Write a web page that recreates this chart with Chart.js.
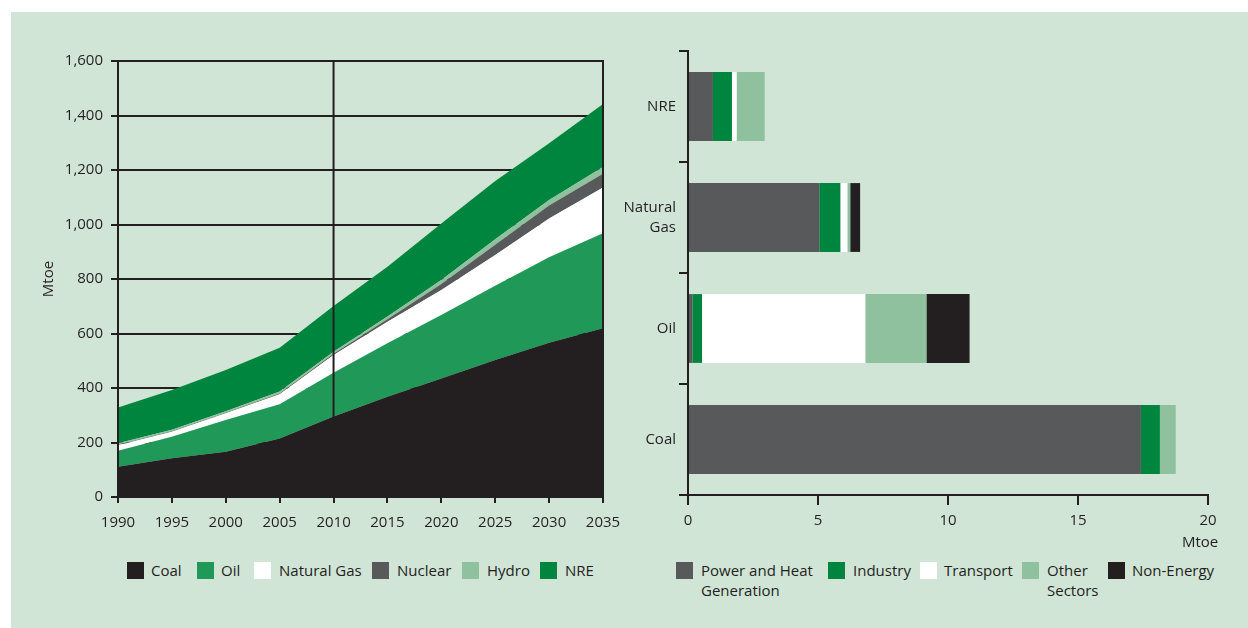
<!DOCTYPE html>
<html>
<head>
<meta charset="utf-8">
<script src="https://cdn.jsdelivr.net/npm/chart.js@4.4.1/dist/chart.umd.min.js"></script>
<style>
    body { margin: 0; width: 1248px; height: 628px; background: #fff; position: relative; overflow: hidden;
           font-family: 'Open Sans', sans-serif; color: #231f20; }
    #panel { position: absolute; left: 11px; top: 12px; width: 1237px; height: 616px; background: #d1e5d7; }
    .box { position: absolute; top: 0; height: 545px; }
    .legend-item { position: absolute; top: 562px; font-size: 15px; line-height: 20px; }
    .legend-item .sw { position: absolute; left: 0; top: 0; width: 17px; height: 17px; }
    .legend-item .tx { position: absolute; top: -2px; white-space: nowrap; }
    #unit { position: absolute; left: 1182px; top: 532px; font-size: 15px; line-height: 18px; }
</style>
</head>
<body>
<div id="panel"></div>
<div class="box" style="left:0;width:625px;"><canvas id="supplyChart" width="625" height="545"></canvas></div>
<div class="box" style="left:625px;width:623px;"><canvas id="sectorChart" width="623" height="545"></canvas></div>
<div id="legendLeft"></div>
<div id="legendRight"></div>
<div id="unit">Mtoe</div>
<script>
// 一次エネルギー供給 (Mtoe)
const years = ['1990', '1995', '2000', '2005', '2010', '2015', '2020', '2025', '2030', '2035'];
const coal = [111, 142, 166, 215, 295, 368, 435, 503, 566, 619];
const oil = [59, 79, 117, 125, 161, 196, 233, 272, 314, 349];
const naturalGas = [20, 18, 24, 37, 65, 79, 92, 113, 142, 168];
const nuclear = [2, 2, 2, 3, 5, 9, 22, 38, 48, 50];
const hydro = [5, 6, 6, 7, 7, 10, 14, 20, 20, 25];
const nre = [131, 146, 151, 161, 168, 183, 208, 214, 208, 231];

// 部門別消費 (Mtoe)
const fuels = ['NRE', ['Natural', 'Gas'], 'Oil', 'Coal'];
const powerHeat = [0.96, 5.05, 0.17, 17.42];
const industry = [0.73, 0.81, 0.37, 0.73];
const transport = [0.18, 0.27, 6.28, 0];
const otherSectors = [1.08, 0.11, 2.35, 0.61];
const nonEnergy = [0, 0.38, 1.66, 0];

const INK = '#231f20';
const COLORS = {
    coal: '#231f20', oil: '#1f9858', gas: '#ffffff', nuclear: '#58595b', hydro: '#90c19f', nre: '#00853e'
};

Chart.defaults.font.family = "'Open Sans', sans-serif";
Chart.defaults.font.size = 15;
Chart.defaults.color = INK;
Chart.defaults.animation = false;

// 2010年と2035年の縦線を面の上に描く
const verticalLines = {
    id: 'verticalLines',
    afterDatasetsDraw(chart) {
        const {ctx, chartArea, scales: {x}} = chart;
        ctx.save();
        ctx.strokeStyle = INK;
        ctx.lineWidth = 2;
        ['1990', '2010', '2035'].forEach(year => {
            const px = x.getPixelForValue(years.indexOf(year));
            ctx.beginPath();
            ctx.moveTo(px, chartArea.top - 1);
            ctx.lineTo(px, chartArea.bottom);
            ctx.stroke();
        });
        ctx.restore();
    }
};

function areaSet(label, data, color, fill) {
    return {
        label: label,
        data: data,
        backgroundColor: color,
        borderWidth: 0,
        pointRadius: 0,
        fill: fill,
        tension: 0
    };
}

new Chart(document.getElementById('supplyChart'), {
    type: 'line',
    data: {
        labels: years,
        datasets: [
            areaSet('Coal', coal, COLORS.coal, 'origin'),
            areaSet('Oil', oil, COLORS.oil, '-1'),
            areaSet('Natural Gas', naturalGas, COLORS.gas, '-1'),
            areaSet('Nuclear', nuclear, COLORS.nuclear, '-1'),
            areaSet('Hydro', hydro, COLORS.hydro, '-1'),
            areaSet('NRE', nre, COLORS.nre, '-1')
        ]
    },
    options: {
        responsive: false,
        layout: { padding: { top: 61, right: 22, left: 0, bottom: 0 } },
        plugins: { legend: { display: false }, tooltip: { enabled: false } },
        scales: {
            x: {
                offset: false,
                grid: { drawOnChartArea: false, color: INK, lineWidth: 2, tickLength: 6 },
                border: { color: INK, width: 2 },
                ticks: { padding: 11, maxRotation: 0, autoSkip: false },
                afterFit: scale => {
                    scale.height = 48;
                    scale.paddingLeft = 0;
                    scale.paddingRight = 0;
                }
            },
            y: {
                stacked: true,
                min: 0,
                max: 1600,
                ticks: { stepSize: 200, padding: 8 },
                grid: { color: INK, lineWidth: 2, tickLength: 7 },
                border: { color: INK, width: 2 },
                title: { display: true, text: 'Mtoe', padding: { top: 40, bottom: 0 } },
                afterFit: scale => { scale.width = 118; }
            }
        }
    },
    plugins: [verticalLines]
});

function barSet(label, data, color) {
    return {
        label: label,
        data: data,
        backgroundColor: color,
        borderWidth: 0,
        barPercentage: 0.62,
        categoryPercentage: 1
    };
}

new Chart(document.getElementById('sectorChart'), {
    type: 'bar',
    data: {
        labels: fuels,
        datasets: [
            barSet('Power and Heat Generation', powerHeat, COLORS.nuclear),
            barSet('Industry', industry, COLORS.nre),
            barSet('Transport', transport, COLORS.gas),
            barSet('Other Sectors', otherSectors, COLORS.hydro),
            barSet('Non-Energy', nonEnergy, COLORS.coal)
        ]
    },
    options: {
        indexAxis: 'y',
        responsive: false,
        layout: { padding: { top: 51, right: 40, left: 0, bottom: 0 } },
        plugins: { legend: { display: false }, tooltip: { enabled: false } },
        scales: {
            x: {
                stacked: true,
                min: 0,
                max: 20,
                ticks: { stepSize: 5, padding: 7 },
                grid: { drawOnChartArea: false, color: INK, lineWidth: 2, tickLength: 10 },
                border: { color: INK, width: 2 },
                afterFit: scale => { scale.height = 50; }
            },
            y: {
                stacked: true,
                ticks: { padding: 3, font: { lineHeight: 1.35 } },
                grid: { drawOnChartArea: false, color: INK, lineWidth: 2, tickLength: 9 },
                border: { color: INK, width: 2 },
                afterFit: scale => { scale.width = 63; }
            }
        }
    }
});

// 凡例 (HTML)
function buildLegend(id, items) {
    const root = document.getElementById(id);
    items.forEach(item => {
        const el = document.createElement('div');
        el.className = 'legend-item';
        el.style.left = item.x + 'px';
        el.innerHTML = '<div class="sw" style="background:' + item.color + '"></div>' +
            '<div class="tx" style="left:' + item.dx + 'px">' + item.text.join('<br>') + '</div>';
        root.appendChild(el);
    });
}

buildLegend('legendLeft', [
    { x: 127, dx: 24, color: COLORS.coal, text: ['Coal'] },
    { x: 197, dx: 24, color: COLORS.oil, text: ['Oil'] },
    { x: 254, dx: 25, color: COLORS.gas, text: ['Natural Gas'] },
    { x: 372, dx: 25, color: COLORS.nuclear, text: ['Nuclear'] },
    { x: 462, dx: 25, color: COLORS.hydro, text: ['Hydro'] },
    { x: 540, dx: 25, color: COLORS.nre, text: ['NRE'] }
]);

buildLegend('legendRight', [
    { x: 676, dx: 25, color: COLORS.nuclear, text: ['Power and Heat', 'Generation'] },
    { x: 828, dx: 25, color: COLORS.nre, text: ['Industry'] },
    { x: 920, dx: 24, color: COLORS.gas, text: ['Transport'] },
    { x: 1022, dx: 25, color: COLORS.hydro, text: ['Other', 'Sectors'] },
    { x: 1108, dx: 24, color: COLORS.coal, text: ['Non-Energy'] }
]);
</script>
</body>
</html>
